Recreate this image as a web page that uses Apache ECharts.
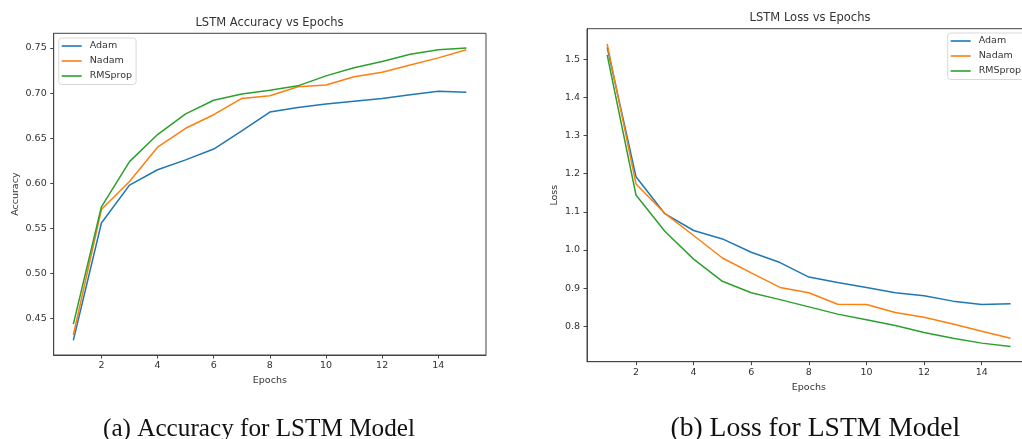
<!DOCTYPE html>
<html>
<head>
<meta charset="utf-8">
<script src="https://cdn.jsdelivr.net/npm/echarts@6/dist/echarts.min.js"></script>
<style>
html,body{margin:0;padding:0;background:#fff;overflow:hidden;}
#c{width:1040px;height:439px;}
</style>
</head>
<body>
<div id="c"></div>
<script>
const epochs = [1,2,3,4,5,6,7,8,9,10,11,12,13,14,15];
const seriesNames = ['Adam','Nadam','RMSprop'];
const accAdam  = [0.426,0.556,0.598,0.615,0.626,0.638,0.658,0.679,0.684,0.688,0.691,0.694,0.698,0.702,0.701];
const accNadam = [0.432,0.571,0.602,0.640,0.661,0.676,0.694,0.697,0.707,0.709,0.718,0.723,0.731,0.739,0.748];
const accRms   = [0.444,0.574,0.624,0.654,0.677,0.692,0.699,0.703,0.708,0.719,0.728,0.735,0.743,0.748,0.750];
const lossAdam  = [1.531,1.192,1.095,1.051,1.029,0.994,0.967,0.929,0.915,0.902,0.888,0.880,0.866,0.857,0.859];
const lossNadam = [1.540,1.173,1.096,1.038,0.979,0.940,0.902,0.888,0.858,0.857,0.836,0.824,0.806,0.787,0.769];
const lossRms   = [1.511,1.144,1.049,0.976,0.918,0.888,0.870,0.851,0.832,0.817,0.802,0.784,0.769,0.756,0.747];
const xTicks = [2,4,6,8,10,12,14];
const accTicks = [0.45,0.50,0.55,0.60,0.65,0.70,0.75];
const lossTicks = [0.8,0.9,1.0,1.1,1.2,1.3,1.4,1.5];
const titles = ['LSTM Accuracy vs Epochs','LSTM Loss vs Epochs'];
const captions = ['(a) Accuracy for LSTM Model','(b) Loss for LSTM Model'];
const yNames = ['Accuracy','Loss'];
const xName = 'Epochs';

const colors = ['#1f77b4','#ff7f0e','#2ca02c'];
const FONT = 'DejaVu Sans';
const TXT = '#333';
const AX = '#444';

function padRange(arrs){
  let mn=Infinity,mx=-Infinity;
  arrs.forEach(a=>a.forEach(v=>{mn=Math.min(mn,v);mx=Math.max(mx,v);}));
  const p=(mx-mn)*0.05; return [mn-p,mx+p];
}
const xr = [epochs[0]-(epochs[epochs.length-1]-epochs[0])*0.05, epochs[epochs.length-1]+(epochs[epochs.length-1]-epochs[0])*0.05];
const accR = padRange([accAdam,accNadam,accRms]);
const lossR = padRange([lossAdam,lossNadam,lossRms]);

function xAxis(gi,gap){
  return {type:'value',gridIndex:gi,min:xr[0],max:xr[1],
    name:xName,nameLocation:'middle',nameGap:gap,
    nameTextStyle:{fontFamily:FONT,fontSize:9.5,color:TXT},
    axisLine:{show:true,lineStyle:{color:AX,width:1}},
    axisTick:{show:true,length:3.5,lineStyle:{color:AX},customValues:xTicks},
    axisLabel:{show:true,margin:6,fontFamily:FONT,fontSize:9.5,color:TXT,customValues:xTicks,formatter:v=>String(v)},
    splitLine:{show:false}};
}
function yAxis(gi,r,ticks,dec,name,gap){
  return {type:'value',gridIndex:gi,min:r[0],max:r[1],
    name:name,nameLocation:'middle',nameGap:gap,nameRotate:90,
    nameTextStyle:{fontFamily:FONT,fontSize:9.5,color:TXT},
    axisLine:{show:true,lineStyle:{color:AX,width:1}},
    axisTick:{show:true,length:3.5,lineStyle:{color:AX},customValues:ticks},
    axisLabel:{show:true,margin:7,fontFamily:FONT,fontSize:9.5,color:TXT,customValues:ticks,formatter:v=>v.toFixed(dec)},
    splitLine:{show:false}};
}
function mkSeries(name,vals,i,gi){
  return {type:'line',name:name,xAxisIndex:gi,yAxisIndex:gi,
    data:epochs.map((e,k)=>[e,vals[k]]),showSymbol:false,symbol:'none',
    lineStyle:{color:colors[i],width:1.5},itemStyle:{color:colors[i]},
    animation:false,silent:true};
}
function legend(left,top){
  return {orient:'vertical',left:left,top:top,data:seriesNames,
    icon:'rect',itemWidth:20,itemHeight:1.6,itemGap:4,
    padding:[2.5,4,3,3],borderColor:'#d8d8d8',borderWidth:1,borderRadius:3,
    backgroundColor:'rgba(255,255,255,0.8)',selectedMode:false,
    textStyle:{fontFamily:FONT,fontSize:9.5,color:TXT,lineHeight:11,padding:[0,0,0,3]}};
}

const chart = echarts.init(document.getElementById('c'),null,{renderer:'canvas'});
chart.setOption({
  animation:false,
  title:[
    {text:titles[0],left:269.5,top:17.5,padding:0,textAlign:'center',textStyle:{fontFamily:FONT,fontSize:11.5,fontWeight:'normal',color:TXT}},
    {text:titles[1],left:810,top:12.5,padding:0,textAlign:'center',textStyle:{fontFamily:FONT,fontSize:11.5,fontWeight:'normal',color:TXT}}
  ],
  grid:[
    {left:53.7,top:33.3,width:432.3,height:321.7,show:true,borderColor:AX,borderWidth:1,backgroundColor:'transparent'},
    {left:587,top:28.7,width:443.7,height:333,show:true,borderColor:AX,borderWidth:1,backgroundColor:'transparent'}
  ],
  legend:[legend(58.7,38),legend(947.7,33)],
  xAxis:[xAxis(0,20),xAxis(1,20.5)],
  yAxis:[yAxis(0,accR,accTicks,2,yNames[0],33),yAxis(1,lossR,lossTicks,1,yNames[1],27)],
  series:[
    mkSeries('Adam',accAdam,0,0),mkSeries('Nadam',accNadam,1,0),mkSeries('RMSprop',accRms,2,0),
    mkSeries('Adam',lossAdam,0,1),mkSeries('Nadam',lossNadam,1,1),mkSeries('RMSprop',lossRms,2,1)
  ],
  graphic:[
    {type:'text',left:103,top:416.5,style:{text:captions[0],font:'25.2px "Liberation Serif"',fill:'#111'}},
    {type:'text',left:670.5,top:415,style:{text:captions[1],font:'27.6px "Liberation Serif"',fill:'#111'}}
  ]
});
</script>
</body>
</html>
